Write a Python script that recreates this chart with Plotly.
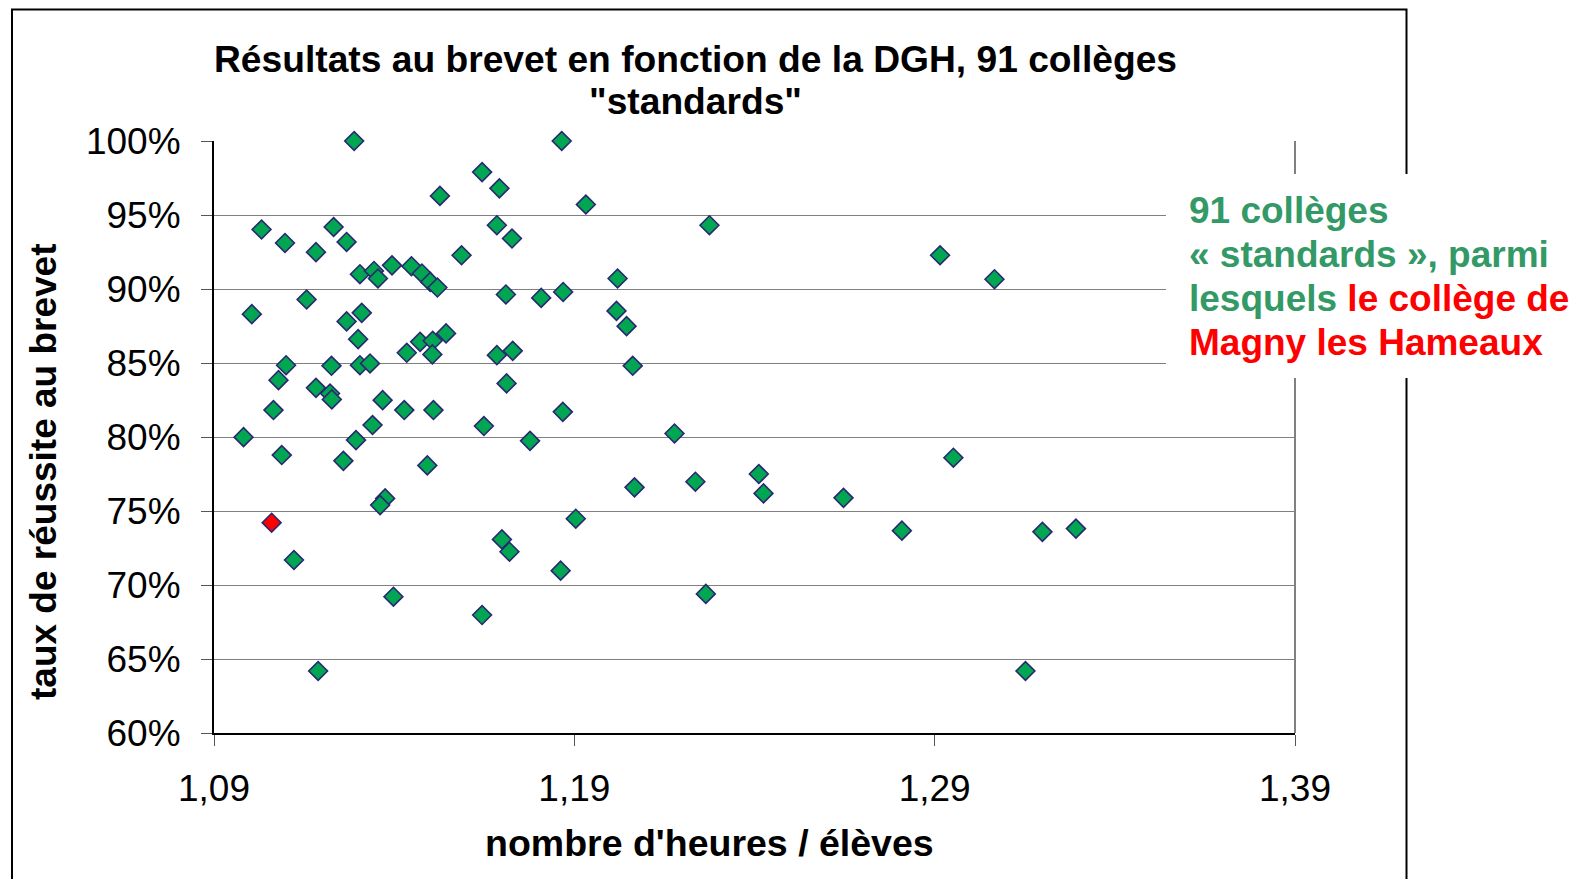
import plotly.graph_objects as go

# ---- data ----
heures = [1.1289, 1.1644, 1.1692, 1.1527, 1.1032, 1.1232, 1.1685, 1.1097, 1.1268, 1.1183,
          1.1587, 1.1305, 1.1344, 1.1355, 1.1394, 1.1448, 1.1477, 1.1500, 1.1520, 1.1005,
          1.1157, 1.1310, 1.1268, 1.1300, 1.1435, 1.1472, 1.1507, 1.1506, 1.1544, 1.1685,
          1.1100, 1.1226, 1.1305, 1.1333, 1.1079, 1.1183, 1.1222, 1.1227, 1.1368, 1.1065,
          1.1428, 1.1509, 1.1649, 1.1340, 1.0982, 1.1294, 1.1088, 1.1259, 1.1492, 1.1375,
          1.1361, 1.1122, 1.1398, 1.1644, 1.1189, 1.1699, 1.1865, 1.1932, 1.2275, 1.1727,
          1.2020, 1.1710, 1.1808, 1.1869, 1.2017, 1.2045, 1.1729, 1.2062, 1.1712, 1.1868,
          1.1777, 1.2178, 1.2067, 1.2236, 1.2412, 1.2425, 1.1904, 1.1720, 1.1862, 1.2265,
          1.2915, 1.3066, 1.2952, 1.2647, 1.2809, 1.3199, 1.3292, 1.3152]
reussite = [100.0, 97.9, 96.8, 96.29, 94.02, 94.19, 94.31, 93.11, 93.18, 92.49,
            92.28, 91.0, 91.22, 90.71, 91.6, 91.54, 91.05, 90.48, 90.1, 88.3,
            89.29, 88.39, 87.81, 86.61, 85.69, 86.43, 86.5, 85.58, 87.0, 85.53,
            84.85, 84.81, 84.85, 84.97, 83.84, 83.32, 82.94, 82.54, 82.49, 81.82,
            81.82, 81.82, 80.74, 80.81, 79.99, 79.79, 78.78, 78.39, 78.08, 75.85,
            75.4, 71.69, 69.21, 67.97, 64.19, 73.08, 100.0, 95.71, 94.31, 93.41,
            90.71, 89.63, 89.4, 89.8, 88.52, 87.49, 85.82, 84.81, 83.62, 81.7,
            79.74, 80.24, 76.6, 76.98, 77.5, 76.19, 74.48, 72.25, 70.97, 69.4,
            92.28, 90.66, 78.6, 75.89, 73.67, 73.59, 73.81, 64.19]
magny_heures = [1.1060]
magny_reussite = [74.21]

x_ticks = [1.09, 1.19, 1.29, 1.39]
y_ticks = [60, 65, 70, 75, 80, 85, 90, 95, 100]
y_tick_labels = ["60%", "65%", "70%", "75%", "80%", "85%", "90%", "95%", "100%"]

# ---- layout geometry (screen pixels; page has an 8px body margin) ----
W, H = 1581, 879
OFF = 8
L, R, T, B = 214 - OFF, 1295 - OFF, 141 - OFF, 733 - OFF


def px(xs):
    return (xs - OFF - L) / (R - L)


def py(ys):
    return (B - (ys - OFF)) / (B - T)


FONT = "Liberation Sans, Arial, sans-serif"
GREEN_TXT = "#339966"
MSIZE = 14.5

fig = go.Figure()
fig.add_trace(go.Scatter(
    x=heures, y=reussite, mode="markers", cliponaxis=False,
    marker=dict(symbol="diamond", size=MSIZE, color="#00A651",
                line=dict(color="#2A2870", width=1.6)),
    showlegend=False, hoverinfo="x+y"))
fig.add_trace(go.Scatter(
    x=magny_heures, y=magny_reussite, mode="markers", cliponaxis=False,
    marker=dict(symbol="diamond", size=MSIZE, color="#FF0000",
                line=dict(color="#2A2870", width=1.6)),
    showlegend=False, hoverinfo="x+y"))

fig.update_layout(
    width=W, height=H,
    margin=dict(l=L, r=W - R, t=T, b=H - B, pad=0),
    paper_bgcolor="white", plot_bgcolor="white",
    separators=", ",
    font=dict(family=FONT, color="black", size=37),
    showlegend=False,
)

fig.update_xaxes(
    range=[1.09, 1.39], autorange=False,
    tickmode="array", tickvals=x_ticks, tickformat=".2f",
    showgrid=False, zeroline=False,
    showline=True, linecolor="black", linewidth=2,
    ticks="outside", ticklen=11, tickcolor="#555555", tickwidth=1,
    tickfont=dict(size=37, family=FONT, color="black"),
    ticklabelstandoff=11,
)
fig.update_yaxes(
    range=[60, 100], autorange=False,
    tickmode="array", tickvals=y_ticks, ticktext=y_tick_labels,
    showgrid=True, gridcolor="#808080", gridwidth=1,
    zeroline=False,
    showline=True, linecolor="black", linewidth=2,
    ticks="outside", ticklen=11, tickcolor="#555555", tickwidth=1,
    tickfont=dict(size=37, family=FONT, color="black"),
    ticklabelstandoff=13,
)

shapes = [
    # outer frame
    dict(type="rect", xref="paper", yref="paper",
         x0=px(12), x1=px(1406.5), y0=py(900), y1=py(9.5),
         line=dict(color="black", width=2), fillcolor="rgba(0,0,0,0)", layer="above"),
    # right border of plot area
    dict(type="line", xref="paper", yref="paper", x0=1, x1=1, y0=0, y1=1,
         line=dict(color="#808080", width=2), layer="above"),
    # white text box
    dict(type="rect", xref="paper", yref="paper",
         x0=px(1166), x1=px(1620), y0=py(378), y1=py(174),
         line=dict(width=0), fillcolor="white", layer="above"),
]

annotations = [
    dict(text="<b>Résultats au brevet en fonction de la DGH, 91 collèges</b>",
         x=px(695), y=py(59), xref="paper", yref="paper",
         xanchor="center", yanchor="middle", showarrow=False,
         font=dict(size=37.2, family=FONT, color="black")),
    dict(text="<b>\"standards\"</b>",
         x=px(695), y=py(101), xref="paper", yref="paper",
         xanchor="center", yanchor="middle", showarrow=False,
         font=dict(size=37.2, family=FONT, color="black")),
    dict(text="<b>nombre d'heures / élèves</b>",
         x=px(709), y=py(843), xref="paper", yref="paper",
         xanchor="center", yanchor="middle", showarrow=False,
         font=dict(size=37.5, family=FONT, color="black")),
    dict(text="<b>taux de réussite au brevet</b>",
         x=px(43), y=py(472), xref="paper", yref="paper",
         xanchor="center", yanchor="middle", showarrow=False, textangle=-90,
         font=dict(size=37, family=FONT, color="black")),
]

box_lines = [
    "<b>91 collèges</b>",
    "<b>« standards », parmi</b>",
    "<b>lesquels <span style='color:#FF0000'>le collège de</span></b>",
    "<b><span style='color:#FF0000'>Magny les Hameaux</span></b>",
]
box_y = [210.5, 254.5, 298.5, 342.5]
for t, yy in zip(box_lines, box_y):
    annotations.append(dict(
        text=t, x=px(1187), y=py(yy), xref="paper", yref="paper",
        xanchor="left", yanchor="middle", showarrow=False, align="left",
        font=dict(size=37, family=FONT, color=GREEN_TXT)))

fig.update_layout(shapes=shapes, annotations=annotations)

fig.write_html("out.html")
